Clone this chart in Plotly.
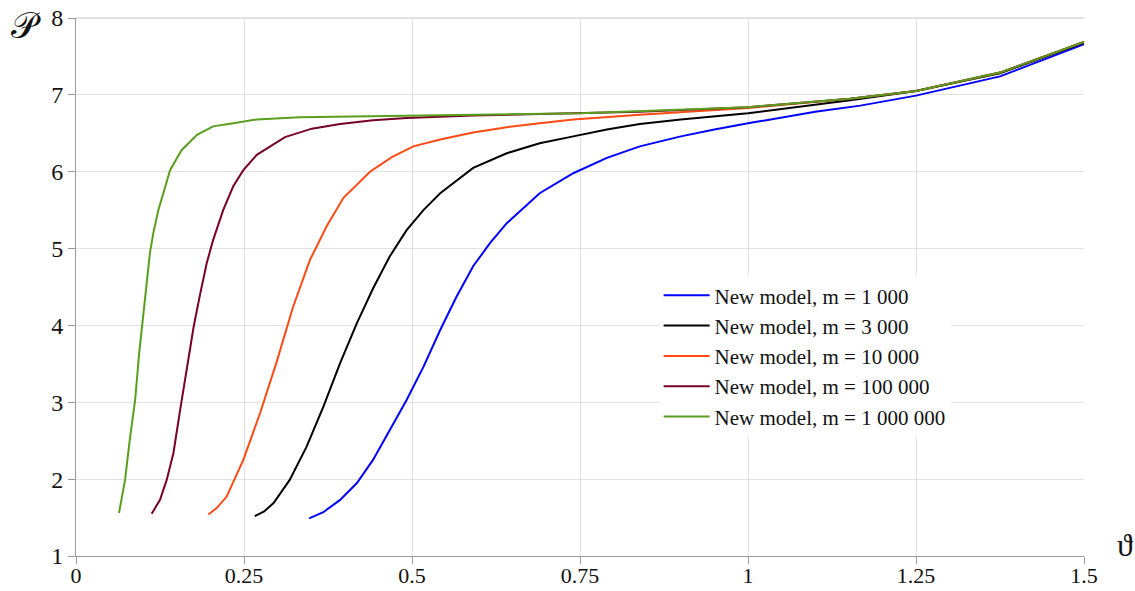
import plotly.graph_objects as go

# Pressure curves P(theta) of the new model for several values of m
theta_m1k = [0.347, 0.368, 0.393, 0.418, 0.442, 0.467, 0.492, 0.517, 0.542, 0.566,
             0.591, 0.616, 0.641, 0.690, 0.740, 0.790, 0.839, 0.900, 0.950, 1.000,
             1.100, 1.167, 1.250, 1.375, 1.500]
p_m1k = [1.49, 1.57, 1.73, 1.95, 2.25, 2.64, 3.03, 3.46, 3.94, 4.37,
         4.77, 5.07, 5.33, 5.72, 5.98, 6.18, 6.33, 6.46, 6.55, 6.63,
         6.78, 6.86, 6.99, 7.24, 7.66]

theta_m3k = [0.266, 0.280, 0.294, 0.318, 0.343, 0.368, 0.393, 0.418, 0.442, 0.467,
             0.492, 0.517, 0.542, 0.591, 0.641, 0.690, 0.740, 0.790, 0.839, 0.900,
             1.000, 1.152, 1.250, 1.375, 1.500]
p_m3k = [1.52, 1.58, 1.69, 1.99, 2.42, 2.94, 3.51, 4.03, 4.48, 4.90,
         5.24, 5.50, 5.72, 6.05, 6.24, 6.37, 6.46, 6.55, 6.62, 6.68,
         6.76, 6.93, 7.05, 7.28, 7.68]

theta_m10k = [0.197, 0.209, 0.224, 0.249, 0.274, 0.298, 0.323, 0.348, 0.373, 0.398,
              0.4375, 0.470, 0.502, 0.542, 0.591, 0.641, 0.690, 0.740, 0.839, 1.000,
              1.152, 1.250, 1.375, 1.500]
p_m10k = [1.54, 1.62, 1.77, 2.25, 2.86, 3.51, 4.24, 4.85, 5.29, 5.66,
          6.00, 6.19, 6.33, 6.42, 6.51, 6.58, 6.63, 6.68, 6.74, 6.83,
          6.95, 7.05, 7.29, 7.69]

theta_m100k = [0.1126, 0.125, 0.135, 0.145, 0.155, 0.165, 0.175, 0.185, 0.1945, 0.204,
               0.219, 0.234, 0.249, 0.269, 0.311, 0.351, 0.393, 0.442, 0.492, 0.591,
               0.740, 0.839, 1.000, 1.152, 1.250, 1.375, 1.500]
p_m100k = [1.55, 1.73, 1.99, 2.34, 2.90, 3.46, 3.98, 4.42, 4.81, 5.11,
           5.50, 5.81, 6.02, 6.22, 6.45, 6.56, 6.62, 6.67, 6.70, 6.73,
           6.76, 6.78, 6.84, 6.95, 7.05, 7.29, 7.69]

theta_m1M = [0.064, 0.073, 0.080, 0.088, 0.094, 0.099, 0.105, 0.110, 0.115, 0.1225,
             0.140, 0.157, 0.180, 0.204, 0.234, 0.269, 0.333, 0.500, 0.750, 1.000,
             1.152, 1.250, 1.375, 1.500]
p_m1M = [1.56, 1.99, 2.51, 3.03, 3.64, 4.07, 4.59, 4.94, 5.20, 5.50,
         6.02, 6.28, 6.48, 6.59, 6.63, 6.68, 6.71, 6.73, 6.76, 6.84,
         6.95, 7.05, 7.29, 7.69]

series_names = [
    "New model, m = 1 000",
    "New model, m = 3 000",
    "New model, m = 10 000",
    "New model, m = 100 000",
    "New model, m = 1 000 000",
]
series_colors = ["#0000ff", "#000000", "#ff4a14", "#780028", "#5a9e1e"]
series_x = [theta_m1k, theta_m3k, theta_m10k, theta_m100k, theta_m1M]
series_y = [p_m1k, p_m3k, p_m10k, p_m100k, p_m1M]

x_ticks = [0, 0.25, 0.5, 0.75, 1, 1.25, 1.5]
x_tick_text = ["0", "0.25", "0.5", "0.75", "1", "1.25", "1.5"]
y_ticks = [1, 2, 3, 4, 5, 6, 7, 8]

FONT = "Liberation Serif"
AXIS_GREY = "#9a9a9a"
GRID_GREY = "#e2e2e2"

fig = go.Figure()
for name, color, xs, ys in zip(series_names, series_colors, series_x, series_y):
    fig.add_trace(go.Scatter(
        x=xs, y=ys, mode="lines", name=name,
        line=dict(color=color, width=2, shape="linear"),
    ))

fig.update_layout(
    width=1135, height=591,
    margin=dict(l=76, r=51, t=18, b=35, autoexpand=False),
    plot_bgcolor="white", paper_bgcolor="white",
    font=dict(family=FONT, size=24, color="#111111"),
    showlegend=True,
    legend=dict(
        x=0.578, y=0.522, xanchor="left", yanchor="top",
        bgcolor="white", borderwidth=0, itemwidth=46,
        font=dict(family=FONT, size=21, color="#111111"),
        tracegroupgap=0,
    ),
    xaxis=dict(
        range=[0, 1.5], tickvals=x_ticks, ticktext=x_tick_text,
        showgrid=True, gridcolor=GRID_GREY, gridwidth=1,
        showline=True, linecolor=AXIS_GREY, linewidth=1, mirror=False,
        ticks="", ticklabelstandoff=0,
        minor=dict(tickvals=x_ticks, ticks="outside", ticklen=7,
                   tickcolor=AXIS_GREY, showgrid=False),
        tickfont=dict(size=22),
        zeroline=False, fixedrange=True, automargin=False,
    ),
    yaxis=dict(
        range=[1, 8], tickvals=y_ticks,
        showgrid=True, gridcolor=GRID_GREY, gridwidth=1,
        showline=True, linecolor=AXIS_GREY, linewidth=1,
        ticks="outside", ticklen=7, tickcolor=AXIS_GREY,
        zeroline=False, fixedrange=True, automargin=False,
    ),
    annotations=[
        dict(text="𝒫", x=-0.05, y=0.985, xref="paper", yref="paper",
             showarrow=False, xanchor="center", yanchor="middle",
             font=dict(family=FONT, size=36, color="#111111")),
        dict(text="ϑ", x=1.041, y=0.02, xref="paper", yref="paper",
             showarrow=False, xanchor="center", yanchor="middle",
             font=dict(family=FONT, size=32, color="#111111")),
    ],
)

# top frame line at P = 8
fig.add_shape(type="line", xref="paper", yref="paper", x0=0, x1=1, y0=1, y1=1,
              line=dict(color="#c4c4c4", width=1), layer="below")

fig.write_html("out.html")
